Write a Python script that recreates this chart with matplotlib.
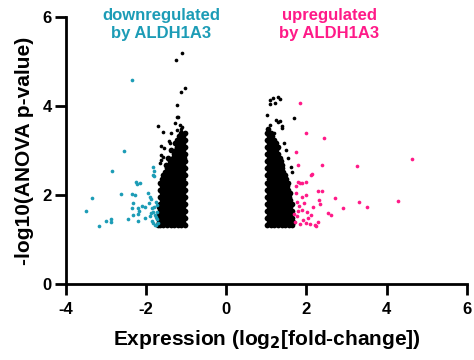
import matplotlib
matplotlib.use("Agg")
import matplotlib.pyplot as plt

plt.rcParams['font.family'] = ['Liberation Sans', 'DejaVu Sans']
plt.rcParams['font.weight'] = 'bold'

BLUE = "#1C9CB6"
PINK = "#FF1A88"

# ---- data: downregulated (blue) ----
down_x = [-3.50, -3.36, -3.18, -2.99, -2.87, -2.87, -2.86, -2.63, -2.54, -2.44, -2.36, -2.34, -2.27,
          -2.33, -2.35, -2.33, -2.24, -2.23, -2.15, -2.20, -2.18, -2.20, -2.20, -2.10, -2.03, -2.03,
          -1.96, -1.90, -1.87, -1.83, -1.80, -1.83, -1.80, -1.92, -1.86, -1.82, -1.78, -1.75, -1.86,
          -1.82, -1.76, -1.72, -1.80, -1.76, -1.72, -1.90, -1.70, -1.78, -1.74, -1.88]
down_y = [1.65, 1.93, 1.31, 1.42, 1.46, 1.40, 2.55, 2.02, 2.98, 1.45, 4.58, 2.03, 2.00,
          1.83, 1.71, 1.55, 2.30, 2.24, 2.28, 1.71, 1.63, 1.57, 1.42, 1.75, 1.73, 1.48,
          2.04, 1.96, 1.92, 2.63, 2.55, 2.46, 2.42, 1.82, 1.70, 1.62, 1.55, 1.50, 1.41,
          1.36, 1.33, 1.45, 1.72, 1.85, 1.62, 1.52, 1.38, 1.32, 1.78, 1.60]

# ---- data: upregulated (pink) ----
up_x = [1.83, 1.99, 2.44, 1.74, 4.63, 1.80, 2.39, 3.27, 2.14, 2.12, 1.78, 1.83, 1.90, 1.98, 1.73,
        2.28, 2.38, 2.72, 2.30, 3.32, 3.52, 4.29, 2.92, 2.34, 2.53, 2.62, 1.76, 1.82, 1.78, 1.90,
        1.95, 2.02, 2.12, 1.77, 1.92, 2.00, 2.10, 2.20, 2.28, 2.24, 1.85, 2.05, 1.72, 1.88, 1.74,
        2.15, 1.70, 2.00]
up_y = [4.07, 3.40, 3.29, 2.97, 2.81, 2.68, 2.68, 2.65, 2.47, 2.44, 2.30, 2.27, 2.28, 2.30, 2.20,
        2.08, 2.10, 1.93, 1.89, 1.84, 1.74, 1.86, 1.70, 1.79, 1.60, 1.55, 1.85, 1.75, 1.65, 1.66,
        1.82, 1.62, 1.55, 1.52, 1.44, 1.38, 1.35, 1.33, 1.40, 1.30, 1.34, 1.48, 1.40, 1.95, 2.05,
        1.72, 1.58, 2.00]

# ---- data: black, left cloud, row by row ----
left_rows = {
    1.32: [-1.03, -1.12, -1.21, -1.30, -1.39, -1.48, -1.57, -1.65, -1.71],
    1.40: [-1.07, -1.16, -1.25, -1.34, -1.43, -1.52, -1.61, -1.68],
    1.48: [-1.03, -1.12, -1.21, -1.30, -1.39, -1.48, -1.57, -1.65, -1.70],
    1.56: [-1.07, -1.16, -1.25, -1.34, -1.43, -1.52, -1.61, -1.68],
    1.64: [-1.03, -1.12, -1.21, -1.30, -1.39, -1.48, -1.57, -1.65],
    1.72: [-1.07, -1.16, -1.25, -1.34, -1.43, -1.52, -1.61, -1.67],
    1.80: [-1.03, -1.12, -1.21, -1.30, -1.39, -1.48, -1.57, -1.65],
    1.88: [-1.07, -1.16, -1.25, -1.34, -1.43, -1.52, -1.61],
    1.96: [-1.03, -1.12, -1.21, -1.30, -1.39, -1.48, -1.57, -1.65],
    2.04: [-1.07, -1.16, -1.25, -1.34, -1.43, -1.52, -1.61],
    2.12: [-1.03, -1.12, -1.21, -1.30, -1.39, -1.48, -1.57, -1.66],
    2.20: [-1.07, -1.16, -1.25, -1.34, -1.43, -1.52, -1.61],
    2.28: [-1.03, -1.12, -1.21, -1.30, -1.39, -1.48, -1.57, -1.65],
    2.36: [-1.07, -1.16, -1.25, -1.34, -1.43, -1.52, -1.60],
    2.44: [-1.03, -1.12, -1.21, -1.30, -1.39, -1.48, -1.57],
    2.52: [-1.07, -1.16, -1.25, -1.34, -1.43, -1.52],
    2.60: [-1.03, -1.12, -1.21, -1.30, -1.39, -1.48],
    2.68: [-1.07, -1.16, -1.25, -1.34, -1.43, -1.50],
    2.76: [-1.03, -1.12, -1.21, -1.30, -1.40],
    2.84: [-1.06, -1.15, -1.24, -1.33, -1.45],
    2.92: [-1.03, -1.12, -1.20, -1.30],
    3.00: [-1.07, -1.16, -1.25, -1.38],
    3.08: [-1.04, -1.12, -1.22],
    3.16: [-1.08, -1.17, -1.28],
    3.24: [-1.04, -1.13, -1.22],
    3.32: [-1.09, -1.18],
    3.40: [-1.04, -1.14],
}
left_sparse_x = [-1.11, -1.26, -1.03, -1.13, -1.22, -1.20, -1.70, -1.57, -1.38, -1.63, -1.59, -1.66,
                 -1.22, -1.28, -1.15, -1.12, -1.24, -1.10, -1.40, -1.42, -1.56, -1.62, -1.64]
left_sparse_y = [5.19, 5.03, 4.40, 4.32, 4.02, 3.75, 3.54, 3.41, 3.39, 3.09, 2.86, 2.71,
                 3.76, 3.62, 3.58, 3.48, 3.45, 3.52, 3.16, 3.22, 3.05, 2.90, 2.78]

# ---- data: black, right cloud, row by row ----
right_rows = {
    1.32: [1.02, 1.11, 1.20, 1.29, 1.38, 1.47, 1.56, 1.65],
    1.40: [1.06, 1.15, 1.24, 1.33, 1.42, 1.51, 1.60, 1.66],
    1.48: [1.02, 1.11, 1.20, 1.29, 1.38, 1.47, 1.56, 1.65],
    1.56: [1.06, 1.15, 1.24, 1.33, 1.42, 1.51, 1.60],
    1.64: [1.02, 1.11, 1.20, 1.29, 1.38, 1.47, 1.56, 1.64],
    1.72: [1.06, 1.15, 1.24, 1.33, 1.42, 1.51, 1.60],
    1.80: [1.02, 1.11, 1.20, 1.29, 1.38, 1.47, 1.56, 1.63],
    1.88: [1.06, 1.15, 1.24, 1.33, 1.42, 1.51, 1.60],
    1.96: [1.02, 1.11, 1.20, 1.29, 1.38, 1.47, 1.56],
    2.04: [1.06, 1.15, 1.24, 1.33, 1.42, 1.51, 1.60],
    2.12: [1.02, 1.11, 1.20, 1.29, 1.38, 1.47, 1.55],
    2.20: [1.06, 1.15, 1.24, 1.33, 1.42, 1.51],
    2.28: [1.02, 1.11, 1.20, 1.29, 1.38, 1.47, 1.54],
    2.36: [1.06, 1.15, 1.24, 1.33, 1.42, 1.50],
    2.44: [1.02, 1.11, 1.20, 1.29, 1.38, 1.46],
    2.52: [1.06, 1.15, 1.24, 1.33, 1.42],
    2.60: [1.02, 1.11, 1.20, 1.29, 1.38],
    2.68: [1.06, 1.15, 1.24, 1.33, 1.40],
    2.76: [1.02, 1.11, 1.20, 1.29, 1.37],
    2.84: [1.06, 1.15, 1.24, 1.33],
    2.92: [1.02, 1.11, 1.20, 1.29],
    3.00: [1.06, 1.15, 1.24],
    3.08: [1.02, 1.11, 1.20, 1.28],
    3.16: [1.06, 1.15, 1.23],
    3.24: [1.02, 1.11, 1.20],
    3.32: [1.06, 1.15],
    3.40: [1.02, 1.12],
    3.48: [1.05],
}
right_sparse_x = [1.08, 1.16, 1.28, 1.33, 1.10, 1.22, 1.02, 1.70, 1.25, 1.30, 1.33, 1.38, 1.40,
                  1.45, 1.49, 1.53, 1.62, 1.65, 1.18, 1.08]
right_sparse_y = [4.13, 4.19, 4.21, 4.15, 4.04, 4.06, 3.80, 3.72, 3.69, 3.65, 3.67, 3.55, 3.50,
                  3.17, 3.00, 2.83, 2.63, 2.52, 3.40, 3.58]

x_ticks = [-4, -2, 0, 2, 4, 6]
y_ticks = [0, 2, 4, 6]

fig = plt.figure(figsize=(4.74, 3.6), dpi=100)
ax = fig.add_axes([0.139, 0.211, 0.846, 0.742])

def rows_to_xy(rows):
    xs, ys = [], []
    for y, xl in rows.items():
        for x in xl:
            xs.append(x)
            ys.append(y)
    return xs, ys

lx, ly = rows_to_xy(left_rows)
rx, ry = rows_to_xy(right_rows)
ax.scatter(lx, ly, s=17, color='black', linewidths=0)
ax.scatter(rx, ry, s=17, color='black', linewidths=0)
ax.scatter(left_sparse_x, left_sparse_y, s=7, color='black', linewidths=0)
ax.scatter(right_sparse_x, right_sparse_y, s=7, color='black', linewidths=0)
ax.scatter(down_x, down_y, s=7, color=BLUE, linewidths=0)
ax.scatter(up_x, up_y, s=7, color=PINK, linewidths=0)

ax.set_xlim(-4, 6)
ax.set_ylim(0, 6)
ax.set_xticks(x_ticks)
ax.set_yticks(y_ticks)
ax.set_xticklabels([str(t) for t in x_ticks])
ax.set_yticklabels([str(t) for t in y_ticks])
for s in ['top', 'right']:
    ax.spines[s].set_visible(False)
for s in ['left', 'bottom']:
    ax.spines[s].set_linewidth(2.0)
ax.tick_params(width=2.0, length=8, labelsize=12)
ax.tick_params(axis='x', pad=5)
ax.tick_params(axis='y', pad=2)
for lab in ax.get_xticklabels() + ax.get_yticklabels():
    lab.set_fontweight('bold')

ax.set_xlabel('Expression (log$_\\mathbf{2}$[fold-change])', fontsize=15, fontweight='bold', labelpad=8)
ax.set_ylabel('-log10(ANOVA p-value)', fontsize=15, fontweight='bold', labelpad=6)

ax.text(-1.62, 5.83, 'downregulated\nby ALDH1A3', color=BLUE, fontsize=12, fontweight='bold',
        ha='center', va='center', linespacing=1.2, clip_on=False)
ax.text(2.57, 5.83, 'upregulated\nby ALDH1A3', color=PINK, fontsize=12, fontweight='bold',
        ha='center', va='center', linespacing=1.2, clip_on=False)

fig.savefig('out.png', dpi=100)
